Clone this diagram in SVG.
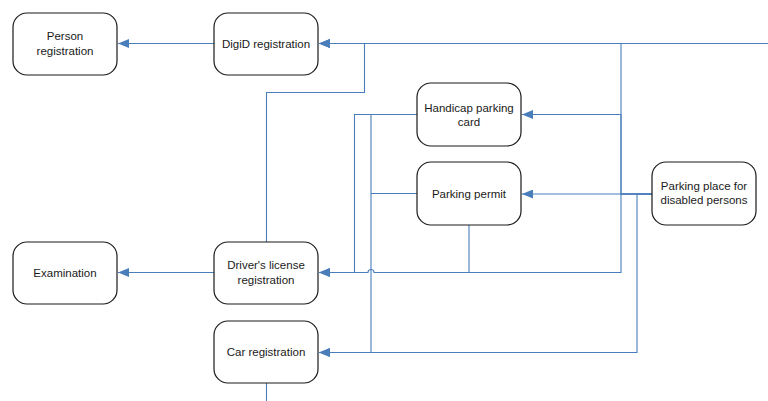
<svg xmlns="http://www.w3.org/2000/svg" width="768" height="401" viewBox="0 0 768 401">
<style>
.n rect{fill:#fff;stroke:#1a1a1a;stroke-width:1.2}
.n text{font-family:"Liberation Sans",Arial,sans-serif;font-size:11.5px;fill:#1a1a1a;text-anchor:middle}
.c path{fill:none;stroke:#4a7ebb;stroke-width:1.1}
</style>
<defs>
<marker id="ah" markerWidth="11" markerHeight="9" refX="11" refY="4.5" orient="auto" markerUnits="userSpaceOnUse">
<path d="M0,0 L11,4.5 L0,9 Z" fill="#4a7ebb" stroke="none"/>
</marker>
</defs>
<rect width="768" height="401" fill="#fff"/>
<g class="c" id="connectors">
<path d="M214,43.5 H118" marker-end="url(#ah)"/>
<path d="M768,43.5 H319" marker-end="url(#ah)"/>
<path d="M266.5,242 V92.5 H364.5 V43.5 H319" marker-end="url(#ah)"/>
<path d="M214,272.5 H118" marker-end="url(#ah)"/>
<path d="M417,114.5 H354.5 V272.5 H319" marker-end="url(#ah)"/>
<path d="M417,114.5 H371 V352.5 H319" marker-end="url(#ah)"/>
<path d="M417,193.5 H371"/>
<path d="M469,225 V272.5 H374 A3,3 0 0 0 368,272.5 H319" marker-end="url(#ah)"/>
<path d="M652,194 H621 V114.5 H522" marker-end="url(#ah)"/>
<path d="M652,194 H522" marker-end="url(#ah)"/>
<path d="M652,194 H621 V43.5 H319" marker-end="url(#ah)"/>
<path d="M652,194 H621 V272.5 H469"/>
<path d="M652,194 H637 V352.5 H319" marker-end="url(#ah)"/>
<path d="M266.5,383 V401"/>
</g>
<g class="n" id="person"><rect x="13" y="13" width="104" height="62" rx="14"/><text x="65" y="40">Person</text><text x="65" y="54.5">registration</text></g>
<g class="n" id="digid"><rect x="214" y="13" width="104" height="62" rx="14"/><text x="266" y="47.5">DigiD registration</text></g>
<g class="n" id="handicap"><rect x="417" y="83" width="104" height="63" rx="14"/><text x="469" y="111.5">Handicap parking</text><text x="469" y="125.5">card</text></g>
<g class="n" id="permit"><rect x="417" y="162" width="104" height="63" rx="14"/><text x="469" y="197.5">Parking permit</text></g>
<g class="n" id="place"><rect x="652" y="162" width="104" height="63" rx="14"/><text x="704" y="190">Parking place for</text><text x="704" y="204">disabled persons</text></g>
<g class="n" id="exam"><rect x="13" y="242" width="104" height="62" rx="14"/><text x="65" y="277">Examination</text></g>
<g class="n" id="driver"><rect x="214" y="242" width="104" height="62" rx="14"/><text x="266" y="269">Driver's license</text><text x="266" y="284">registration</text></g>
<g class="n" id="car"><rect x="214" y="321" width="104" height="62" rx="14"/><text x="266" y="356">Car registration</text></g>
</svg>
